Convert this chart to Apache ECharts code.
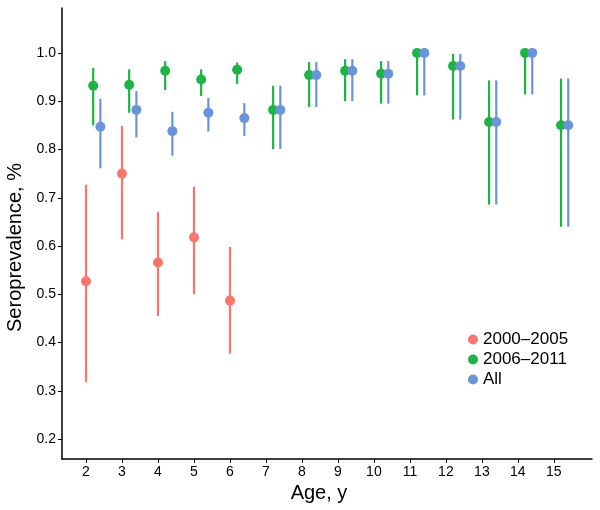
<!DOCTYPE html>
<html>
<head>
<meta charset="utf-8">
<script src="https://cdn.jsdelivr.net/npm/echarts@6/dist/echarts.min.js"></script>
<style>html,body{margin:0;padding:0;background:#fff}#c{width:600px;height:510px}</style>
</head>
<body>
<div id="c"></div>
<script>
// ---- data ----
var groupNames = ['2000\u20132005', '2006\u20132011', 'All'];
var xTicks = [2, 3, 4, 5, 6, 7, 8, 9, 10, 11, 12, 13, 14, 15];
var yTicks = [0.2, 0.3, 0.4, 0.5, 0.6, 0.7, 0.8, 0.9, 1.0];

var agesEarly = [2, 3, 4, 5, 6];
var earlyEst = [0.527, 0.750, 0.566, 0.618, 0.487];
var earlyLo  = [0.318, 0.614, 0.455, 0.500, 0.377];
var earlyHi  = [0.727, 0.849, 0.671, 0.723, 0.598];

var agesLate = [2, 3, 4, 5, 6, 7, 8, 9, 10, 11, 12, 13, 14, 15];
var lateEst = [0.932, 0.934, 0.963, 0.945, 0.965, 0.882, 0.954, 0.963, 0.957, 1.000, 0.973, 0.857, 1.000, 0.850];
var lateLo  = [0.850, 0.876, 0.923, 0.911, 0.936, 0.801, 0.888, 0.900, 0.895, 0.912, 0.862, 0.686, 0.914, 0.640];
var lateHi  = [0.969, 0.966, 0.983, 0.966, 0.980, 0.932, 0.981, 0.987, 0.983, 1.000, 0.998, 0.943, 1.000, 0.947];

var agesAll = [2, 3, 4, 5, 6, 7, 8, 9, 10, 11, 12, 13, 14, 15];
var allEst = [0.847, 0.882, 0.838, 0.876, 0.865, 0.882, 0.954, 0.963, 0.957, 1.000, 0.973, 0.857, 1.000, 0.850];
var allLo  = [0.761, 0.825, 0.787, 0.837, 0.828, 0.801, 0.888, 0.900, 0.895, 0.912, 0.862, 0.686, 0.914, 0.640];
var allHi  = [0.905, 0.921, 0.878, 0.907, 0.896, 0.932, 0.981, 0.987, 0.983, 1.000, 0.998, 0.943, 1.000, 0.947];

// ---- styling / layout ----
var colors = ['#F8766D', '#1DB345', '#6A94D8'];
var dodge = [0, 0.2, 0.4];
var FONT = '"Liberation Sans", Arial, sans-serif';

function build(ages, est, lo, hi, off) {
  var pts = [], bars = [];
  for (var i = 0; i < ages.length; i++) {
    pts.push([ages[i] + off, est[i]]);
    bars.push([ages[i] + off, lo[i], hi[i]]);
  }
  return {pts: pts, bars: bars};
}
var groups = [
  build(agesEarly, earlyEst, earlyLo, earlyHi, dodge[0]),
  build(agesLate, lateEst, lateLo, lateHi, dodge[1]),
  build(agesAll, allEst, allLo, allHi, dodge[2])
];

function errRender(color) {
  return function (params, api) {
    var p1 = api.coord([api.value(0), api.value(1)]);
    var p2 = api.coord([api.value(0), api.value(2)]);
    return {
      type: 'line',
      shape: {x1: p1[0], y1: p1[1], x2: p2[0], y2: p2[1]},
      style: {stroke: color, lineWidth: 2.2}
    };
  };
}

var series = [];
groups.forEach(function (g, k) {
  series.push({
    name: groupNames[k], type: 'custom', renderItem: errRender(colors[k]),
    data: g.bars, encode: {x: 0, y: [1, 2]}, itemStyle: {color: colors[k]},
    silent: true, z: 2
  });
});
groups.forEach(function (g, k) {
  series.push({
    name: groupNames[k], type: 'scatter', data: g.pts,
    symbol: 'circle', symbolSize: 10, itemStyle: {color: colors[k], opacity: 1},
    z: 3
  });
});

var chart = echarts.init(document.getElementById('c'), null, {renderer: 'canvas'});
chart.setOption({
  animation: false,
  backgroundColor: '#fff',
  grid: {left: 62, right: 8, top: 8, bottom: 51, containLabel: false, outerBoundsMode: 'none'},
  legend: {
    orient: 'vertical', left: 463, top: 326,
    itemWidth: 10, itemHeight: 10, itemGap: 3,
    data: groupNames.map(function (n) { return {name: n, icon: 'circle'}; }),
    textStyle: {fontFamily: FONT, fontSize: 17, color: '#000', lineHeight: 17}
  },
  xAxis: {
    type: 'value', min: 1.333, max: 16.06,
    name: 'Age, y', nameLocation: 'middle', nameGap: 22,
    nameTextStyle: {fontFamily: FONT, fontSize: 20, color: '#000', padding: [0, 16, 0, 0]},
    axisLine: {lineStyle: {color: '#000', width: 1.5}},
    axisTick: {show: true, length: 4, lineStyle: {color: '#000', width: 1}, customValues: xTicks},
    axisLabel: {fontFamily: FONT, fontSize: 14, color: '#000', margin: 6, customValues: xTicks},
    splitLine: {show: false}
  },
  yAxis: {
    type: 'value', min: 0.159, max: 1.093,
    name: 'Seroprevalence, %', nameLocation: 'middle', nameGap: 37,
    nameTextStyle: {fontFamily: FONT, fontSize: 20, color: '#000', padding: [0, 28, 0, 0]},
    axisLine: {show: true, lineStyle: {color: '#000', width: 1.5}},
    axisTick: {show: true, length: 4, lineStyle: {color: '#000', width: 1}, customValues: yTicks},
    axisLabel: {fontFamily: FONT, fontSize: 14, color: '#000', margin: 6, customValues: yTicks,
      formatter: function (v) { return v.toFixed(1); }},
    splitLine: {show: false}
  },
  series: series
});
</script>
</body>
</html>
